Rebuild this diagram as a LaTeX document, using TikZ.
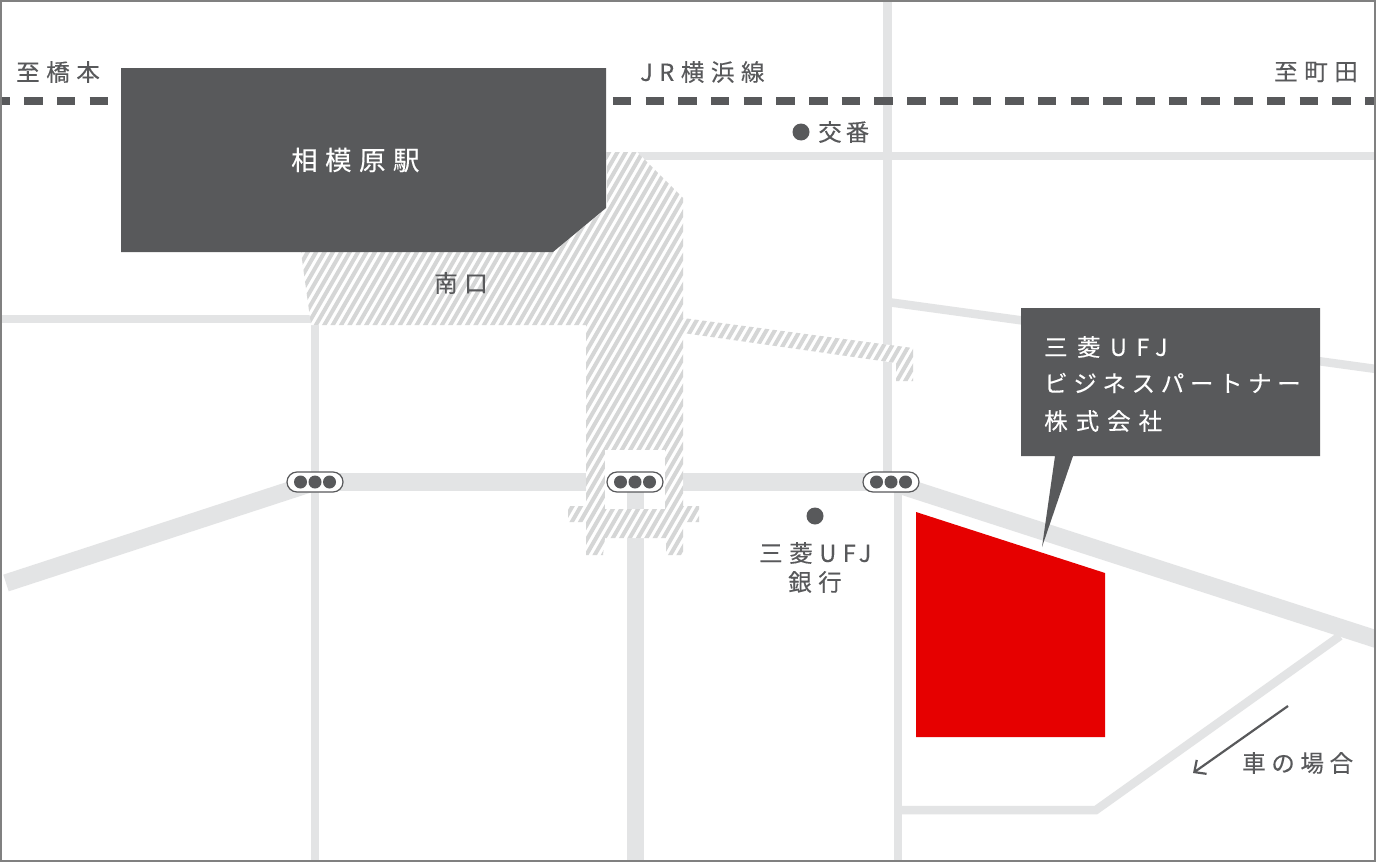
\documentclass[tikz,border=0pt]{standalone}
\usepackage{fontspec}
\usepackage{tikz}
\usetikzlibrary{arrows.meta}
\newfontfamily\LatinFont[LetterSpace=40,FakeBold=0.25]{Noto Sans CJK JP}
\newfontfamily\WideFont[LetterSpace=34,FakeBold=0.25]{Noto Sans CJK JP}
\newfontfamily\MapFont[LetterSpace=28,FakeBold=0.25]{Noto Sans CJK JP}
\newfontfamily\KanaFont[LetterSpace=24,FakeBold=0.25]{Noto Sans CJK JP}
\newfontfamily\TightFont[LetterSpace=17,FakeBold=0.25]{Noto Sans CJK JP}
\definecolor{ColDark}{RGB}{88,89,91}
\definecolor{ColRoad}{RGB}{227,228,229}
\definecolor{ColHatch}{RGB}{213,214,214}
\definecolor{ColRed}{RGB}{230,0,0}
\definecolor{ColFrame}{RGB}{128,128,128}
\tikzstyle{RoadThin}=[ColRoad,line width=8.5pt]
\tikzstyle{RoadWide}=[ColRoad,line width=17.5pt]
\tikzstyle{HatchLine}=[ColHatch,line width=4pt]
\tikzstyle{Rail}=[ColDark,line width=8pt,dash pattern=on 18.5pt off 14.2pt]
\tikzstyle{MapText}=[anchor=west,inner sep=0pt,text=ColDark,font=\fontsize{23.5}{23.5}\selectfont\MapFont]
\tikzstyle{BoxText}=[anchor=west,inner sep=0pt,text=white,font=\fontsize{23.5}{23.5}\selectfont\WideFont]
\tikzstyle{DotMark}=[circle,fill=ColDark,inner sep=0pt,minimum size=17pt]
\tikzstyle{SignalBox}=[rounded corners=10pt,draw=ColDark,fill=white,line width=1.2pt,minimum width=56pt,minimum height=20pt,inner sep=0pt]
\tikzstyle{SignalDot}=[circle,fill=ColDark,inner sep=0pt,minimum size=13pt]

\begin{document}
\begin{tikzpicture}[x=1pt,y=-1pt]
        \useasboundingbox(0,0)rectangle(1376,862);
        \fill[white](0,0)rectangle(1376,862);
        % roads
        \draw[RoadThin](887.5,0)--(887.5,482);
        \draw[RoadThin](898,482)--(898,862);
        \draw[RoadThin](600,156)--(1376,156);
        \draw[RoadThin](0,319)--(315,319);
        \draw[RoadThin](315,319)--(315,862);
        \draw[RoadThin](887.5,302)--(1376,369);
        \draw[RoadThin](1340,636)--(1096,810)--(898,810);
        \draw[RoadWide](315,482)--(586,482);
        \draw[RoadWide](683,482)--(890,482);
        \draw[RoadWide](315,482)--(6,583);
        \draw[RoadWide](890,482)--(1385,642);
        \draw[RoadWide](635.5,490)--(635.5,862);
        % hatched walkways
        \begin{scope}
            \clip(607,152)--(637,152)--(683,198)--(683,506)--(699,506)--(699,522)--(683,522)
                --(683,555)--(666,555)--(666,538)--(605,538)--(603,555)--(586,555)--(586,522)
                --(568,522)--(568,506)--(586,506)--(586,325)--(311,325)--(301,252)--(553,252)--(607,208)--cycle
                (683,318)--(913,348)--(913,381)--(896,381)--(896,363)--(683,333)--cycle;
            \fill[white](280,140)rectangle(920,560);
            \foreach \K in {0,...,120}{
                \draw[HatchLine](40+\K*8.4,570)--(40+\K*8.4+260,120);
            }
        \end{scope}
        \fill[white](605,450)rectangle(665,509);
        \draw[RoadWide](635.5,490)--(635.5,509);
        % railway and station
        \draw[Rail](-8.5,101)--(1376,101);
        \fill[ColDark](121,68)--(606,68)--(606,208)--(553,252)--(121,252)--cycle;
        % building and callout
        \fill[ColRed](916,512)--(1105,573)--(1105,737)--(916,737)--cycle;
        \fill[ColDark](1021,308)--(1320,308)--(1320,456)--(1073,456)--(1042,547)--(1055,456)--(1021,456)--cycle;
        % signals
        \foreach \Pos in {315,635,891}{
            \node[SignalBox](signal\Pos)at(\Pos,482){};
            \node[SignalDot](signal\Pos a)at(\Pos-14.5,482){};
            \node[SignalDot](signal\Pos b)at(\Pos,482){};
            \node[SignalDot](signal\Pos c)at(\Pos+14.5,482){};
        }
        % labels
        \node[MapText](hashimoto)at(16,72){至橋本};
        \node[MapText](yokohama)at(640,72){JR横浜線};
        \node[MapText](machida)at(1274,72){至町田};
        \node[BoxText,font=\fontsize{26.5}{26.5}\selectfont\MapFont](station)at(291,160){相模原駅};
        \node[DotMark](koban)at(801,132){};
        \node[MapText,font=\fontsize{23.5}{23.5}\selectfont\TightFont](kobantext)at(818,132){交番};
        \node[MapText](south)at(434,283){南口};
        \node[DotMark](bank)at(815,516){};
        \node[MapText](banktexta)at(759,553){三菱UFJ};
        \node[MapText](banktextb)at(788,582){銀行};
        \node[BoxText,font=\fontsize{23.5}{23.5}\selectfont\LatinFont](boxa)at(1044,347){三菱UFJ};
        \node[BoxText,font=\fontsize{23.5}{23.5}\selectfont\KanaFont](boxb)at(1044,383){ビジネスパートナー};
        \node[BoxText](boxc)at(1044,421){株式会社};
        % car arrow
        \node[MapText,font=\fontsize{23.5}{23.5}\selectfont\KanaFont](car)at(1242,763){車の場合};
        \coordinate(carstart)at(1288,706);
        \coordinate(carend)at(1193,773);
        \draw[ColDark,line width=2.2pt,-{Straight Barb[length=9pt,width=17pt]}](carstart)--(carend);
        % frame
        \draw[ColFrame,line width=2pt](1,1)rectangle(1375,861);
    \end{tikzpicture}
\end{document}
